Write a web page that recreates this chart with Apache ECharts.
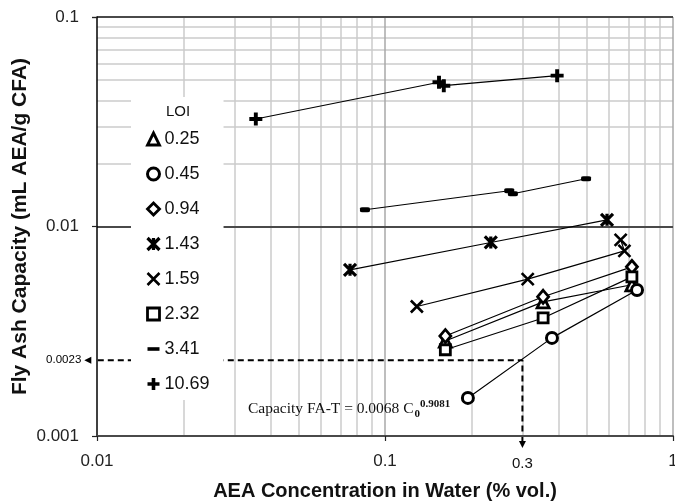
<!DOCTYPE html>
<html>
<head>
<meta charset="utf-8">
<script src="https://cdn.jsdelivr.net/npm/echarts@6/dist/echarts.min.js"></script>
<style>
  html, body { margin: 0; padding: 0; background: #fff; }
  #chart { width: 675px; height: 502px; }
</style>
</head>
<body>
<div id="chart"></div>
<script>
// Fly ash AEA capacity vs. AEA concentration, grouped by LOI (%)
const loiLabels = ['0.25', '0.45', '0.94', '1.43', '1.59', '2.32', '3.41', '10.69'];

const conc025 = [0.162, 0.354, 0.72];
const cap025  = [0.00284, 0.00437, 0.00527];
const conc045 = [0.194, 0.380, 0.750];
const cap045  = [0.00152, 0.00294, 0.00498];
const conc094 = [0.162, 0.354, 0.72];
const cap094  = [0.00300, 0.00462, 0.00642];
const conc143 = [0.0756, 0.233, 0.590];
const cap143  = [0.00621, 0.00839, 0.01076];
const conc159 = [0.129, 0.313, 0.678, 0.658];
const cap159  = [0.00415, 0.00561, 0.00765, 0.00864];
const conc232 = [0.162, 0.354, 0.72];
const cap232  = [0.00258, 0.00366, 0.00575];
const conc341 = [0.0852, 0.270, 0.278, 0.499];
const cap341  = [0.01202, 0.01481, 0.01433, 0.01690];
const conc1069 = [0.0356, 0.154, 0.160, 0.396];
const cap1069  = [0.0326, 0.0488, 0.0470, 0.0525];

// Axis ticks
const xTickLabels = ['0.01', '0.1', '1'];
const yTickLabels = ['0.001', '0.01', '0.1'];
const xMajor = [0.1, 1];
const yMajor = [0.01, 0.1];
const xMinor = [0.02, 0.03, 0.04, 0.05, 0.06, 0.07, 0.08, 0.09, 0.2, 0.3, 0.4, 0.5, 0.6, 0.7, 0.8, 0.9];
const yMinor = [0.002, 0.003, 0.004, 0.005, 0.006, 0.007, 0.008, 0.009, 0.02, 0.03, 0.04, 0.05, 0.06, 0.07, 0.08, 0.09];

// Design point read-off: capacity at 0.3 % AEA
const refConc = 0.3;
const refCap = 0.0023;
const refConcLabel = '0.3';
const refCapLabel = '0.0023';

const FONT = '"Liberation Sans", Arial, sans-serif';
const SERIF = '"Liberation Serif", "Times New Roman", serif';

// Marker shapes
const SYM_X = 'path://M0,0L10,10M10,0L0,10';
const SYM_STAR = 'path://M0,0L10,10M10,0L0,10M5,0L5,10';
const SYM_PLUS = 'path://M3.5,0H6.5V3.5H10V6.5H6.5V10H3.5V6.5H0V3.5H3.5Z';

const markerDefs = {
  '0.25':  { symbol: 'triangle', size: 12, fill: '#fff', bw: 2.8 },
  '0.45':  { symbol: 'circle',   size: 11, fill: '#fff', bw: 3 },
  '0.94':  { symbol: 'diamond',  size: [11, 13], fill: '#fff', bw: 2.8 },
  '1.43':  { symbol: SYM_STAR,   size: 12, fill: 'none', bw: 3.2 },
  '1.59':  { symbol: SYM_X,      size: 12, fill: 'none', bw: 2.6 },
  '2.32':  { symbol: 'rect',     size: 10, fill: '#fff', bw: 2.8 },
  '3.41':  { symbol: 'roundRect', size: [10, 5], fill: '#000', bw: 0 },
  '10.69': { symbol: SYM_PLUS,   size: 13, fill: '#000', bw: 0 }
};

const seriesXY = [
  [conc025, cap025], [conc045, cap045], [conc094, cap094], [conc143, cap143],
  [conc159, cap159], [conc232, cap232], [conc341, cap341], [conc1069, cap1069]
];

function pairs(xs, ys) { return xs.map((x, i) => [x, ys[i]]); }

const dataSeries = loiLabels.map((name, i) => {
  const m = markerDefs[name];
  return {
    name: name,
    type: 'line',
    data: pairs(seriesXY[i][0], seriesXY[i][1]),
    symbol: m.symbol,
    symbolSize: m.size,
    showAllSymbol: true,
    lineStyle: { color: '#000', width: 1.2 },
    itemStyle: { color: m.fill, borderColor: '#000', borderWidth: m.bw },
    emphasis: { disabled: true },
    z: 3
  };
});

// Background grid: minor decade lines first, major decade lines on top
const gridLines = [];
xMinor.forEach(v => gridLines.push({ xAxis: v, lineStyle: { color: '#cbcbcb', width: 1.5, type: 'solid' } }));
yMinor.forEach(v => gridLines.push({ yAxis: v, lineStyle: { color: '#cbcbcb', width: 1.5, type: 'solid' } }));
xMajor.forEach(v => gridLines.push({ xAxis: v, lineStyle: { color: '#a8a8a8', width: 1.5, type: 'solid' } }));
yMajor.forEach(v => gridLines.push({ yAxis: v, lineStyle: { color: '#4a4a4a', width: 1.8, type: 'solid' } }));

const gridSeries = {
  name: 'grid',
  type: 'line',
  data: [],
  silent: true,
  z: 1,
  markLine: {
    z: 1,
    silent: true,
    symbol: 'none',
    label: { show: false },
    animation: false,
    data: gridLines
  }
};

// Dashed read-off guide with arrows running just past the axes
const overshoot = Math.pow(10, 0.032);
const refSeries = {
  name: 'ref',
  type: 'line',
  clip: false,
  silent: true,
  z: 2,
  lineStyle: { color: '#000', width: 2, type: [6, 4] },
  itemStyle: { color: '#000' },
  data: [
    { value: [0.01 / overshoot, refCap], symbol: 'triangle', symbolSize: [7, 7], symbolRotate: 90,
      label: { show: true, position: 'left', distance: 3, formatter: refCapLabel,
               fontSize: 11.5, color: '#000', fontFamily: FONT } },
    { value: [refConc, refCap], symbol: 'none' },
    { value: [refConc, 0.001 / Math.pow(10, 0.04)], symbol: 'triangle', symbolSize: [7, 7], symbolRotate: 180,
      label: { show: true, position: 'bottom', distance: 8, formatter: refConcLabel,
               fontSize: 15, color: '#111', fontFamily: FONT } }
  ]
};

const legendIcons = {
  '0.25': 'triangle', '0.45': 'circle', '0.94': 'diamond', '1.43': SYM_STAR,
  '1.59': SYM_X, '2.32': 'rect', '3.41': 'path://M0,3.5H10V6.5H0Z', '10.69': SYM_PLUS
};

const chart = echarts.init(document.getElementById('chart'), null, { renderer: 'canvas' });

chart.setOption({
  animation: false,
  backgroundColor: '#fff',
  grid: { left: 97, right: 2, top: 17, bottom: 66, containLabel: false, outerBoundsMode: 'none' },
  xAxis: {
    type: 'log',
    logBase: 10,
    min: 0.01,
    max: 1,
    splitNumber: 2,
    z: 5,
    name: 'AEA Concentration in Water (% vol.)',
    nameLocation: 'middle',
    nameGap: 45,
    nameMoveOverlap: false,
    nameTextStyle: { fontFamily: FONT, fontSize: 20, fontWeight: 'bold', color: '#111' },
    axisLine: { show: true, lineStyle: { color: '#4a4a4a', width: 2 } },
    axisTick: { show: true, length: 5, lineStyle: { color: '#222', width: 1.2 } },
    axisLabel: {
      fontFamily: FONT, fontSize: 17, color: '#222', margin: 17,
      formatter: (v, i) => xTickLabels[i]
    },
    splitLine: { show: false },
    minorTick: { show: false },
    minorSplitLine: { show: false }
  },
  yAxis: {
    type: 'log',
    logBase: 10,
    min: 0.001,
    max: 0.1,
    splitNumber: 2,
    z: 5,
    name: 'Fly Ash Capacity (mL AEA/g CFA)',
    nameLocation: 'middle',
    nameGap: 66,
    nameMoveOverlap: false,
    nameTextStyle: { fontFamily: FONT, fontSize: 21, fontWeight: 'bold', color: '#111' },
    axisLine: { show: true, lineStyle: { color: '#000', width: 1.5 } },
    axisTick: { show: true, length: 5, lineStyle: { color: '#222', width: 1.2 } },
    axisLabel: {
      fontFamily: FONT, fontSize: 17, color: '#222', margin: 18,
      formatter: (v, i) => yTickLabels[i]
    },
    splitLine: { show: false }
  },
  legend: {
    orient: 'vertical',
    left: 131,
    top: 97,
    padding: [33, 14, 7, 14],
    backgroundColor: '#fff',
    itemWidth: 12,
    itemHeight: 12,
    itemGap: 17,
    selectedMode: false,
    textStyle: { fontFamily: FONT, fontSize: 18, lineHeight: 16, color: '#111' },
    data: loiLabels.map(name => {
      const m = markerDefs[name];
      return {
        name: name,
        icon: legendIcons[name],
        itemStyle: { color: m.fill, borderColor: '#000', borderWidth: m.bw }
      };
    })
  },
  graphic: [
    {
      type: 'text', z: 100, left: 166, top: 104,
      style: { text: 'LOI', fontFamily: FONT, fontSize: 15, fill: '#111' }
    },
    {
      type: 'text', z: 100, left: 248, top: 397,
      style: {
        text: '{m|Capacity FA-T = 0.0068 C}{sub|0}{sup|0.9081}',
        rich: {
          m:   { fontFamily: SERIF, fontSize: 15.5, fill: '#111', lineHeight: 24, verticalAlign: 'middle' },
          sub: { fontFamily: SERIF, fontSize: 11, fontWeight: 'bold', fill: '#111', lineHeight: 24, verticalAlign: 'bottom', padding: [0, 0, 1, 1] },
          sup: { fontFamily: SERIF, fontSize: 11, fontWeight: 'bold', fill: '#111', lineHeight: 24, verticalAlign: 'top', padding: [2, 0, 0, 0] }
        }
      }
    }
  ],
  series: [gridSeries, refSeries].concat(dataSeries)
});
</script>
</body>
</html>
